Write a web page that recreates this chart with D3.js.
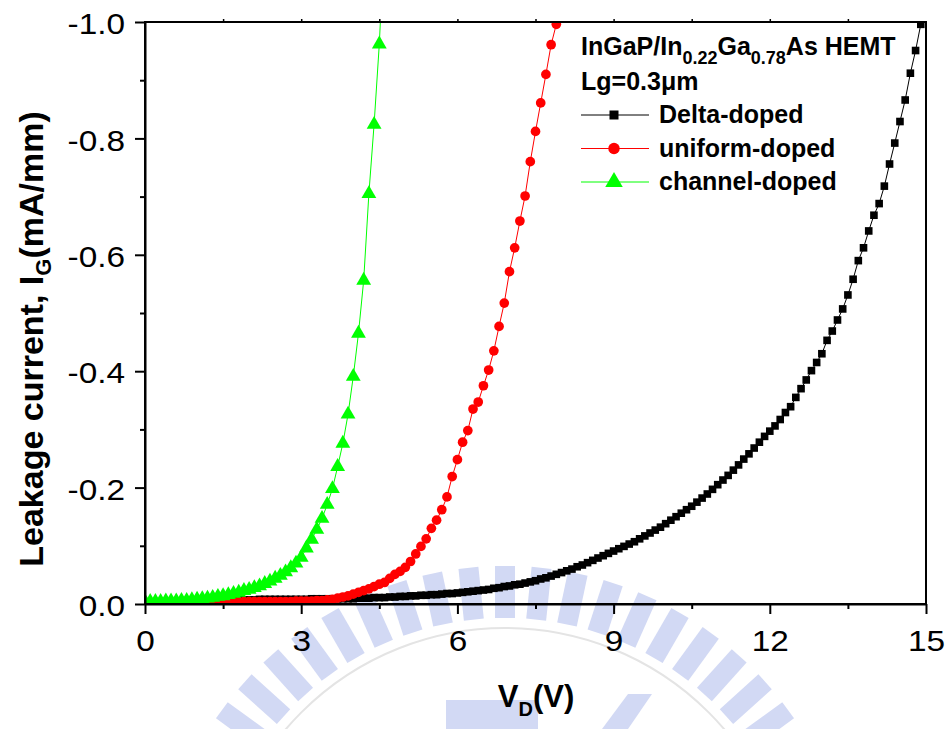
<!DOCTYPE html>
<html>
<head>
<meta charset="utf-8">
<script src="https://cdn.jsdelivr.net/npm/d3@7"></script>
<style>
  body { margin: 0; background: #fff; }
  text { font-family: Arial, "Liberation Sans", sans-serif; fill: #000; }
</style>
</head>
<body>
<svg id="chart" width="952" height="729"></svg>
<script>
// Drain voltage sweep (V), shared by all three devices
const drainVoltage = [
  0.0,0.1,0.2,0.3,0.4,0.5,0.6,0.7,0.8,0.9,
  1.0,1.1,1.2,1.3,1.4,1.5,1.6,1.7,1.8,1.9,
  2.0,2.1,2.2,2.3,2.4,2.5,2.6,2.7,2.8,2.9,
  3.0,3.1,3.2,3.3,3.4,3.5,3.6,3.7,3.8,3.9,
  4.0,4.1,4.2,4.3,4.4,4.5,4.6,4.7,4.8,4.9,
  5.0,5.1,5.2,5.3,5.4,5.5,5.6,5.7,5.8,5.9,
  6.0,6.1,6.2,6.3,6.4,6.5,6.6,6.7,6.8,6.9,
  7.0,7.1,7.2,7.3,7.4,7.5,7.6,7.7,7.8,7.9,
  8.0,8.1,8.2,8.3,8.4,8.5,8.6,8.7,8.8,8.9,
  9.0,9.1,9.2,9.3,9.4,9.5,9.6,9.7,9.8,9.9,
  10.0,10.1,10.2,10.3,10.4,10.5,10.6,10.7,10.8,10.9,
  11.0,11.1,11.2,11.3,11.4,11.5,11.6,11.7,11.8,11.9,
  12.0,12.1,12.2,12.3,12.4,12.5,12.6,12.7,12.8,12.9,
  13.0,13.1,13.2,13.3,13.4,13.5,13.6,13.7,13.8,13.9,
  14.0,14.1,14.2,14.3,14.4,14.5,14.6,14.7,14.8,14.9,
  15.0
];

// Gate leakage current (mA/mm), one value per sweep step
const deltaDoped = [
  -0.001,-0.001,-0.001,-0.002,-0.002,-0.002,-0.003,-0.003,-0.003,-0.004,
  -0.004,-0.004,-0.005,-0.005,-0.006,-0.006,-0.006,-0.007,-0.007,-0.007,
  -0.007,-0.007,-0.008,-0.008,-0.008,-0.008,-0.008,-0.008,-0.008,-0.008,
  -0.008,-0.008,-0.009,-0.009,-0.009,-0.009,-0.009,-0.009,-0.009,-0.009,
  -0.009,-0.010,-0.010,-0.010,-0.011,-0.011,-0.011,-0.012,-0.012,-0.013,
  -0.013,-0.014,-0.014,-0.015,-0.015,-0.016,-0.016,-0.017,-0.018,-0.018,
  -0.019,-0.020,-0.021,-0.022,-0.023,-0.024,-0.025,-0.027,-0.028,-0.030,
  -0.031,-0.033,-0.034,-0.036,-0.038,-0.040,-0.043,-0.045,-0.048,-0.051,
  -0.054,-0.057,-0.060,-0.064,-0.067,-0.071,-0.075,-0.079,-0.083,-0.087,
  -0.091,-0.095,-0.099,-0.103,-0.107,-0.112,-0.117,-0.122,-0.127,-0.132,
  -0.138,-0.144,-0.150,-0.156,-0.162,-0.168,-0.175,-0.182,-0.189,-0.197,
  -0.205,-0.213,-0.221,-0.230,-0.239,-0.249,-0.258,-0.268,-0.278,-0.288,
  -0.297,-0.306,-0.317,-0.329,-0.339,-0.355,-0.370,-0.385,-0.401,-0.415,
  -0.430,-0.453,-0.469,-0.488,-0.507,-0.531,-0.558,-0.590,-0.612,-0.641,
  -0.668,-0.688,-0.718,-0.756,-0.792,-0.829,-0.866,-0.912,-0.951,-0.996,
  -1.040
];

const uniformDoped = [
  0.000,0.000,0.000,0.000,0.000,0.000,0.000,-0.001,-0.001,-0.001,
  -0.001,-0.001,-0.002,-0.002,-0.003,-0.003,-0.003,-0.004,-0.004,-0.004,
  -0.004,-0.004,-0.004,-0.004,-0.004,-0.004,-0.004,-0.004,-0.004,-0.005,
  -0.005,-0.005,-0.005,-0.006,-0.006,-0.007,-0.008,-0.010,-0.012,-0.014,
  -0.017,-0.020,-0.023,-0.026,-0.030,-0.034,-0.037,-0.044,-0.051,-0.056,
  -0.063,-0.073,-0.086,-0.099,-0.112,-0.130,-0.144,-0.162,-0.184,-0.219,
  -0.248,-0.278,-0.298,-0.335,-0.347,-0.375,-0.402,-0.435,-0.477,-0.517,
  -0.571,-0.612,-0.658,-0.701,-0.760,-0.812,-0.861,-0.910,-0.961,-0.996,
  -1.040
];

const channelDoped = [
  -0.004,-0.004,-0.004,-0.004,-0.005,-0.005,-0.005,-0.006,-0.006,-0.007,
  -0.008,-0.009,-0.010,-0.011,-0.013,-0.014,-0.016,-0.018,-0.020,-0.023,
  -0.025,-0.028,-0.031,-0.035,-0.039,-0.044,-0.049,-0.055,-0.062,-0.070,
  -0.080,-0.096,-0.111,-0.128,-0.147,-0.171,-0.198,-0.236,-0.276,-0.326,
  -0.391,-0.465,-0.556,-0.705,-0.824,-0.962,-1.150
];

const seriesNames = ["Delta-doped", "uniform-doped", "channel-doped"];
const seriesColors = ["#000000", "#ff0000", "#00ff00"];
const seriesShapes = [d3.symbolSquare, d3.symbolCircle, d3.symbolTriangle];
const seriesSizes = [58, 74, 95];

const xTicks = [0, 3, 6, 9, 12, 15];
const yTicks = [0, -0.2, -0.4, -0.6, -0.8, -1.0];

const svg = d3.select("#chart");
const m = { left: 145, right: 926, top: 22, bottom: 604 };

// Faint emblem watermark printed behind the figure
const emblem = svg.append("g");
const ec = [505, 916];
const emblemBlue = "#d2d9f4";
emblem.append("circle")
  .attr("cx", ec[0]).attr("cy", ec[1]).attr("r", 288)
  .attr("fill", "none").attr("stroke", "#e4e4e4").attr("stroke-width", 2);
emblem.selectAll("rect.tooth")
  .data(d3.range(-54, 55, 6))
  .join("rect")
  .attr("class", "tooth")
  .attr("x", -10).attr("y", -350).attr("width", 20).attr("height", 52)
  .attr("fill", emblemBlue)
  .attr("transform", a => `translate(${ec[0]},${ec[1]}) rotate(${a})`);
emblem.append("rect")
  .attr("x", 446).attr("y", 700).attr("width", 92).attr("height", 33)
  .attr("fill", emblemBlue);
emblem.append("polygon")
  .attr("points", "602,729 628,694 652,694 628,729")
  .attr("fill", emblemBlue);

const x = d3.scaleLinear().domain([0, 15]).range([m.left, m.right]);
const y = d3.scaleLinear().domain([0, -1]).range([m.bottom, m.top]);

svg.append("defs").append("clipPath").attr("id", "plotClip")
  .append("rect")
  .attr("x", m.left).attr("y", m.top)
  .attr("width", m.right - m.left).attr("height", m.bottom - m.top);

const plot = svg.append("g").attr("clip-path", "url(#plotClip)");
const allSeries = [deltaDoped, uniformDoped, channelDoped];

allSeries.forEach((vals, i) => {
  const pts = vals.map((v, k) => [drainVoltage[k], v]);
  plot.append("path")
    .datum(pts)
    .attr("fill", "none")
    .attr("stroke", seriesColors[i])
    .attr("stroke-width", 1)
    .attr("d", d3.line().x(d => x(d[0])).y(d => y(d[1])));
  plot.append("g").selectAll("path")
    .data(pts)
    .join("path")
    .attr("transform", d => `translate(${x(d[0])},${y(d[1])})`)
    .attr("d", d3.symbol().type(seriesShapes[i]).size(seriesSizes[i]))
    .attr("fill", seriesColors[i]);
});

// Axes
const fmt = d => d.toFixed(1);
const axisFont = 29, stretch = 1.15;

function styleAxis(g) {
  g.select(".domain").attr("stroke-width", 2);
  g.selectAll(".tick line").attr("stroke-width", 2);
  g.selectAll("text").attr("font-size", axisFont).attr("font-family", "Arial, 'Liberation Sans', sans-serif");
}

// minor ticks
svg.append("g").attr("transform", `translate(0,${m.bottom})`)
  .call(d3.axisBottom(x).tickValues([1.5, 4.5, 7.5, 10.5, 13.5]).tickSize(5).tickFormat(""))
  .call(g => { g.select(".domain").remove(); g.selectAll("line").attr("stroke-width", 2); });
svg.append("g").attr("transform", `translate(${m.left},0)`)
  .call(d3.axisLeft(y).tickValues([-0.1, -0.3, -0.5, -0.7, -0.9]).tickSize(5).tickFormat(""))
  .call(g => { g.select(".domain").remove(); g.selectAll("line").attr("stroke-width", 2); });
// small ticks along the top edge
svg.append("g").attr("transform", `translate(0,${m.top})`)
  .call(d3.axisTop(x).tickValues([1.5, 3, 4.5, 6, 7.5, 9, 10.5, 12, 13.5]).tickSize(3).tickFormat(""))
  .call(g => { g.select(".domain").remove(); g.selectAll("line").attr("stroke-width", 1.5); });

const xAxis = svg.append("g").attr("transform", `translate(0,${m.bottom})`)
  .call(d3.axisBottom(x).tickValues(xTicks).tickSize(10).tickSizeOuter(0).tickPadding(16).tickFormat(d => d))
  .call(styleAxis);
xAxis.selectAll("text").attr("transform", `scale(${stretch},1)`);

const yAxis = svg.append("g").attr("transform", `translate(${m.left},0)`)
  .call(d3.axisLeft(y).tickValues(yTicks).tickSize(10).tickSizeOuter(0).tickPadding(10).tickFormat(fmt))
  .call(styleAxis);
yAxis.selectAll("text").each(function () {
  const t = d3.select(this);
  const tx = +t.attr("x");
  t.attr("x", 0).attr("dy", "0.4em")
   .attr("transform", `translate(${tx},0) scale(${stretch},1)`);
});

// Frame
svg.append("rect")
  .attr("x", m.left).attr("y", m.top)
  .attr("width", m.right - m.left).attr("height", m.bottom - m.top)
  .attr("fill", "none").attr("stroke", "#000").attr("stroke-width", 2);

// Axis titles
const xt = svg.append("text")
  .attr("x", 536).attr("y", 707).attr("text-anchor", "middle")
  .attr("font-weight", "bold").attr("font-size", 31);
xt.append("tspan").text("V");
xt.append("tspan").attr("font-size", 20).attr("dy", 9).text("D");
xt.append("tspan").attr("dy", -9).text("(V)");

const yt = svg.append("text")
  .attr("transform", "translate(43,339) rotate(-90)")
  .attr("text-anchor", "middle")
  .attr("font-weight", "bold").attr("font-size", 34);
yt.append("tspan").text("Leakage current, I");
yt.append("tspan").attr("font-size", 22).attr("dy", 8).text("G");
yt.append("tspan").attr("dy", -8).text("(mA/mm)");

// Legend
const lg = svg.append("g").attr("font-weight", "bold");
const title = lg.append("text").attr("x", 581).attr("y", 55).attr("font-size", 25);
title.append("tspan").text("InGaP/In");
title.append("tspan").attr("font-size", 18).attr("dy", 9).text("0.22");
title.append("tspan").attr("dy", -9).text("Ga");
title.append("tspan").attr("font-size", 18).attr("dy", 9).text("0.78");
title.append("tspan").attr("dy", -9).text("As HEMT");
lg.append("text").attr("x", 581).attr("y", 90).attr("font-size", 25).text("Lg=0.3\u03bcm");

const legendRows = [115, 148.5, 182];
seriesNames.forEach((name, i) => {
  const ly = legendRows[i];
  lg.append("line")
    .attr("x1", 581).attr("x2", 649).attr("y1", ly).attr("y2", ly)
    .attr("stroke", seriesColors[i]).attr("stroke-width", 1);
  lg.append("path")
    .attr("transform", `translate(614,${ly})`)
    .attr("d", d3.symbol().type(seriesShapes[i]).size(seriesSizes[i] * 1.4))
    .attr("fill", seriesColors[i]);
  lg.append("text").attr("x", 659).attr("y", ly + 8).attr("font-size", 25).text(name);
});
</script>
</body>
</html>
